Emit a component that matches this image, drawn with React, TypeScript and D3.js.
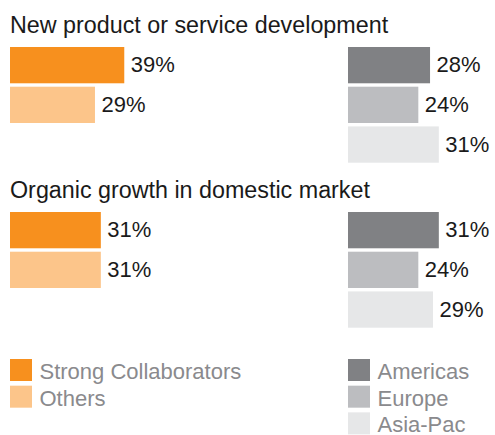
import { useEffect, useRef } from "react";
import * as d3 from "d3";

const categories = ["New product or service development", "Organic growth in domestic market"];
const collabGroups = ["Strong Collaborators", "Others"];
const regionGroups = ["Americas", "Europe", "Asia-Pac"];
const collabValues = [
  [39, 29],
  [31, 31],
];
const regionValues = [
  [28, 24, 31],
  [31, 24, 29],
];

const collabColors = ["#f7901e", "#fcc58a"];
const regionColors = ["#808184", "#bcbdc0", "#e6e7e8"];

const FONT = "'Liberation Sans', Arial, Helvetica, sans-serif";

export default function App() {
  const svgRef = useRef<SVGSVGElement | null>(null);

  useEffect(() => {
    if (!svgRef.current) return;
    const svg = d3.select(svgRef.current);
    svg.selectAll("*").remove();

    const width = 495;
    const height = 435;
    svg.attr("width", width).attr("height", height).attr("viewBox", `0 0 ${width} ${height}`);

    const x = d3.scaleLinear().domain([0, 100]).range([0, 293]);
    const band = d3.scaleBand<number>().domain([0, 1, 2]).range([0, 115.7]).paddingInner(0.086);
    const sectionY = d3.scaleOrdinal<string, number>().domain(categories).range([47, 212]);

    const leftX = 10;
    const rightX = 348;

    categories.forEach((cat, ci) => {
      const top = sectionY(cat);
      const g = svg.append("g").attr("transform", `translate(0,${top})`);

      g.append("text")
        .attr("x", leftX)
        .attr("y", -14.5)
        .attr("font-family", FONT)
        .attr("font-size", 23.3)
        .attr("fill", "#1a1a1a")
        .text(cat);

      const drawGroup = (vals: number[], colors: string[], x0: number) => {
        const gg = g.append("g").attr("transform", `translate(${x0},0)`);
        gg.selectAll("rect")
          .data(vals)
          .join("rect")
          .attr("x", 0)
          .attr("y", (_, i) => band(i)!)
          .attr("width", (d) => x(d))
          .attr("height", band.bandwidth())
          .attr("fill", (_, i) => colors[i]);
        gg.selectAll("text")
          .data(vals)
          .join("text")
          .attr("x", (d) => x(d) + 6.5)
          .attr("y", (_, i) => band(i)! + band.bandwidth() / 2)
          .attr("dy", "0.32em")
          .attr("font-family", FONT)
          .attr("font-size", 22)
          .attr("fill", "#1a1a1a")
          .text((d) => `${d}%`);
      };

      drawGroup(collabValues[ci], collabColors, leftX);
      drawGroup(regionValues[ci], regionColors, rightX);
    });

    // legends
    const legendY = d3.scaleBand<number>().domain([0, 1, 2]).range([359, 434.5]).paddingInner(0.17);
    const drawLegend = (labels: string[], colors: string[], x0: number) => {
      const lg = svg.append("g").attr("transform", `translate(${x0},0)`);
      const item = lg
        .selectAll("g")
        .data(labels)
        .join("g")
        .attr("transform", (_, i) => `translate(0,${legendY(i)})`);
      item
        .append("rect")
        .attr("width", 22)
        .attr("height", 22)
        .attr("fill", (_, i) => colors[i]);
      item
        .append("text")
        .attr("x", 29.5)
        .attr("y", 20)
        .attr("font-family", FONT)
        .attr("font-size", 22)
        .attr("fill", "#8a8a8d")
        .text((d) => d);
    };
    drawLegend(collabGroups, collabColors, leftX);
    drawLegend(regionGroups, regionColors, rightX);
  }, []);

  return (
    <div style={{ position: "absolute", left: 0, top: 0, background: "#fff" }}>
      <svg ref={svgRef} style={{ display: "block" }} />
    </div>
  );
}
